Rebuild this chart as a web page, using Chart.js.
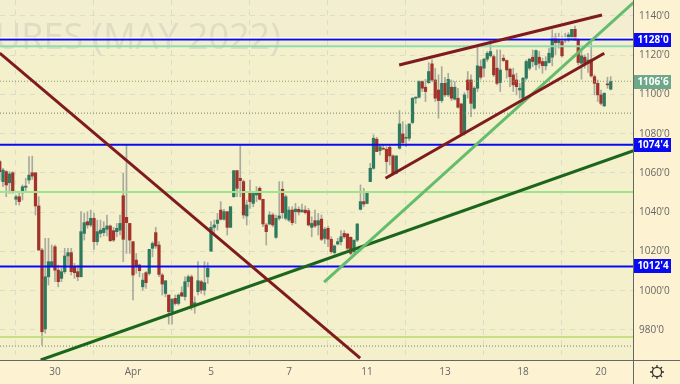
<!DOCTYPE html>
<html lang="en">
<head>
    <meta charset="UTF-8">
    <title>Futures (May 2022)</title>
    <script src="https://cdn.jsdelivr.net/npm/chart.js"></script>
    <style>
        html, body { margin: 0; padding: 0; background: #fdf2d2; overflow: hidden; }
        #wrap { position: relative; width: 680px; height: 384px; }
        canvas { display: block; }
        #gear { position: absolute; left: 649px; top: 364px; }
    </style>
</head>
<body>
<div id="wrap">
    <canvas id="priceChart" width="680" height="384"></canvas>
    <svg id="gear" width="16" height="16" viewBox="0 0 16 16" fill="none" stroke="#333" stroke-width="1.3">
        <circle cx="8" cy="8" r="4.6"/>
        <path d="M8 1v2.4M8 12.6V15M1 8h2.4M12.6 8H15M3 3l1.7 1.7M11.3 11.3L13 13M13 3l-1.7 1.7M4.7 11.3L3 13"/>
    </svg>
</div>

<script>
    const opens = [1065.8,1055.6,1060.7,1055.0,1060.1,1046.6,1047.9,1049.9,1052.7,1056.4,1060.1,1060.1,1043.2,1020.7,980.5,1007.1,1012.2,1022.4,1010.5,1006.3,
        1009.7,1017.7,1019.4,1012.2,1009.7,1007.1,1029.2,1035.2,1033.5,1036.9,1025.0,1029.2,1029.6,1031.3,1033.0,1030.6,1030.1,1030.9,1048.4,1037.4,
        1034.3,1025.0,1015.6,1013.1,1002.0,1009.2,1008.8,1021.6,1029.6,1023.3,1008.0,998.6,997.8,989.3,996.1,993.5,999.0,997.0,1004.6,1007.1,
        992.7,999.5,1004.6,1000.3,1007.1,1020.2,1032.3,1034.3,1041.1,1036.4,1040.3,1032.3,1047.9,1061.2,1057.3,1055.6,1038.1,1049.6,1044.5,1048.8,
        1052.2,1046.6,1033.5,1034.0,1038.6,1027.2,1036.9,1051.7,1036.9,1036.0,1041.1,1040.3,1041.5,1040.3,1041.1,1040.8,1032.3,1035.7,1033.5,1036.5,
        1026.7,1031.8,1026.2,1019.4,1023.8,1025.0,1029.2,1028.9,1027.2,1019.9,1025.8,1041.5,1045.4,1044.5,1055.6,1062.4,1077.2,1071.4,1072.6,1072.1,
        1073.1,1068.7,1059.8,1072.6,1079.9,1077.7,1077.7,1085.7,1098.1,1098.6,1106.6,1103.7,1106.0,1115.6,1107.4,1102.3,1096.9,1105.7,1099.8,1103.7,
        1097.6,1098.1,1095.2,1080.2,1107.4,1107.4,1093.0,1103.2,1114.2,1113.4,1118.0,1119.7,1119.3,1113.4,1106.1,1118.5,1117.3,1112.9,1110.0,1107.4,
        1102.3,1098.1,1108.3,1113.4,1119.0,1115.1,1119.0,1116.8,1114.6,1116.3,1119.0,1129.2,1126.4,1127.0,1127.8,1127.8,1128.7,1133.2,1127.8,1115.9,
        1119.0,1115.9,1117.6,1109.1,1105.7,1099.8,1094.2,1105.4,1102.7];
    const highs = [1066.6,1062.4,1061.2,1060.7,1060.7,1048.8,1049.6,1053.9,1057.3,1068.3,1068.6,1060.1,1047.9,1021.6,1026.7,1026.7,1023.3,1023.3,1013.1,1011.4,
        1021.6,1021.6,1021.6,1013.9,1013.1,1040.3,1039.4,1040.3,1041.1,1039.4,1036.0,1036.0,1035.2,1038.6,1033.5,1032.3,1034.3,1038.6,1059.8,1074.3,
        1034.3,1025.0,1019.0,1013.6,1008.8,1009.7,1021.1,1025.0,1032.3,1025.0,1008.8,1005.1,997.8,996.1,997.8,998.3,1002.0,1007.1,1008.0,1008.0,
        996.9,1014.8,1005.4,1014.8,1014.3,1035.2,1036.0,1039.4,1045.4,1041.5,1040.3,1042.8,1061.2,1061.2,1073.7,1056.4,1046.2,1056.4,1049.6,1053.0,
        1053.0,1046.6,1034.3,1040.3,1039.4,1038.6,1055.6,1055.6,1048.8,1042.8,1042.8,1044.5,1042.8,1044.2,1043.2,1042.0,1037.7,1041.1,1039.4,1038.6,
        1032.3,1033.0,1027.5,1023.3,1026.7,1030.6,1030.6,1029.2,1027.5,1025.8,1034.3,1053.9,1052.2,1050.0,1064.9,1079.4,1078.2,1074.3,1074.3,1073.4,
        1074.3,1069.2,1068.7,1091.8,1086.2,1084.5,1085.0,1098.4,1098.9,1106.9,1106.9,1107.7,1116.2,1117.6,1113.4,1110.0,1114.2,1108.8,1110.8,1107.4,
        1106.6,1103.2,1095.5,1101.0,1111.7,1110.0,1104.0,1124.4,1117.6,1118.5,1121.9,1127.8,1120.2,1122.7,1122.7,1120.2,1117.6,1113.4,1113.4,1110.8,
        1105.7,1108.8,1117.6,1118.5,1122.7,1122.7,1121.9,1118.5,1119.3,1123.6,1132.9,1131.2,1131.2,1129.8,1131.2,1131.5,1133.2,1134.9,1128.7,1123.6,
        1120.2,1121.0,1126.1,1110.0,1107.4,1102.3,1101.0,1108.8,1109.1];
    const lows = [1056.4,1053.0,1047.9,1049.6,1049.6,1043.7,1043.7,1046.2,1050.5,1054.7,1056.7,1038.6,1020.7,972.3,978.3,1002.9,1012.2,1004.6,1002.0,1004.6,
        1008.8,1013.1,1008.0,1006.3,1005.1,1007.1,1025.8,1031.8,1032.6,1021.1,1023.3,1027.2,1027.9,1027.9,1025.0,1025.0,1027.5,1028.4,1014.8,1019.0,
        1019.0,995.3,1008.8,1007.1,1000.3,1001.2,1008.0,1017.3,1021.6,1007.1,997.8,996.9,983.0,983.0,992.7,992.7,997.0,995.2,1002.0,990.2,
        988.5,997.8,998.6,997.8,1003.7,1019.9,1029.2,1030.9,1036.0,1036.0,1028.4,1032.3,1047.6,1047.9,1047.9,1036.9,1033.5,1042.0,1042.8,1045.4,
        1046.2,1032.6,1023.3,1033.5,1032.6,1026.7,1036.0,1036.9,1036.0,1035.2,1033.5,1034.3,1038.6,1039.8,1039.1,1033.0,1027.5,1032.3,1028.4,1025.5,
        1024.1,1022.4,1019.0,1018.7,1023.3,1023.3,1026.7,1020.7,1018.2,1019.0,1025.0,1041.1,1042.8,1044.2,1055.6,1061.9,1070.9,1069.2,1072.1,1059.8,
        1064.1,1059.0,1059.5,1072.1,1074.8,1073.4,1076.5,1085.0,1095.5,1098.1,1101.5,1096.4,1105.7,1106.6,1096.4,1087.9,1095.9,1098.9,1098.9,1096.9,
        1097.2,1093.0,1079.9,1079.3,1098.1,1088.7,1092.5,1101.5,1107.8,1109.1,1116.8,1119.0,1109.1,1104.9,1101.5,1116.8,1108.3,1104.0,1101.5,1099.8,
        1098.1,1097.2,1107.4,1112.5,1114.2,1112.5,1113.4,1110.8,1112.5,1115.9,1114.6,1120.2,1123.6,1119.0,1126.4,1127.0,1127.8,1127.5,1115.1,1107.8,
        1113.4,1111.2,1108.8,1099.8,1096.4,1094.7,1093.8,1103.2,1102.3];
    const closes = [1060.7,1061.5,1053.9,1059.5,1050.0,1047.9,1045.4,1053.0,1053.3,1058.9,1058.4,1043.2,1020.7,979.1,1007.1,1014.8,1014.8,1010.5,1004.6,1009.7,
        1017.7,1019.4,1009.7,1009.2,1007.1,1030.1,1034.7,1033.5,1036.9,1025.0,1030.1,1030.9,1031.8,1033.0,1025.5,1025.8,1031.8,1034.3,1026.2,1034.7,
        1025.8,1008.0,1012.6,1010.2,1005.4,1004.1,1021.1,1024.1,1022.8,1008.3,1003.4,1005.1,989.3,995.6,993.5,997.8,997.3,1004.6,1007.1,992.2,
        993.9,1005.1,1000.3,1004.1,1011.4,1032.3,1033.5,1036.0,1036.4,1040.3,1032.3,1042.8,1061.2,1052.2,1056.1,1038.6,1043.7,1045.4,1049.6,1050.5,
        1046.6,1034.0,1030.1,1038.6,1033.5,1036.9,1038.1,1039.8,1047.9,1041.1,1034.7,1041.6,1040.1,1041.1,1039.8,1033.5,1034.3,1033.0,1035.7,1026.2,
        1031.3,1026.3,1019.9,1022.8,1025.0,1027.5,1027.5,1021.6,1019.0,1025.8,1034.0,1045.4,1044.2,1049.6,1062.4,1077.7,1070.9,1073.4,1072.1,1065.8,
        1068.7,1059.8,1068.7,1085.0,1075.5,1078.2,1085.0,1098.1,1098.6,1106.6,1103.2,1101.5,1111.7,1107.4,1098.1,1096.9,1105.7,1099.8,1107.7,1098.1,
        1103.7,1093.5,1080.2,1099.8,1102.3,1095.5,1103.2,1114.6,1108.8,1118.0,1121.0,1121.9,1110.0,1105.7,1112.5,1117.3,1112.5,1109.1,1104.9,1104.0,
        1103.2,1108.3,1116.8,1118.0,1116.8,1122.4,1115.9,1114.7,1116.8,1121.0,1129.2,1126.4,1127.5,1119.7,1128.1,1130.4,1133.2,1127.8,1116.3,1119.7,
        1115.9,1117.6,1109.5,1105.7,1099.8,1095.5,1100.6,1104.9,1106.6];

    // tick labels
    const xTickPos = [17, 41, 65, 89, 113, 137, 161, 185];
    const xTickLabels = ['30', 'Apr', '5', '7', '11', '13', '18', '20'];
    const yTickVals = [980, 1000, 1020, 1040, 1060, 1080, 1100, 1120, 1140];

    // horizontal levels: value, colour, width, dash
    const levels = [
        [1128.9, '#ffffff', 1, []],
        [1124.6, '#8fdcb0', 2, []],
        [1050.3, '#9be58a', 2, []],
        [976.4, '#bcd86c', 1.5, []],
        [1106.75, '#8a9a70', 1, [1, 2]],
        [1090.5, '#77806a', 1, [1, 2]],
        [971.8, '#77806a', 1, [1, 2]],
        [1128, '#0a0af0', 2, []],
        [1074.4, '#0a0af0', 2, []],
        [1012.4, '#0a0af0', 2, []]
    ];

    // trend lines: x0, y0, x1, y1, colour
    const trends = [
        [0, 1121.1, 110.9, 965.7, '#7f1a1f'],
        [122.9, 1115, 185.3, 1140.5, '#7f1a1f'],
        [118.7, 1057.3, 186, 1121, '#7f1a1f'],
        [99.8, 1004.4, 195, 1146.8, '#63bd6c'],
        [12.6, 964.7, 195, 1071.4, '#1c651c']
    ];

    // price tags on the right axis
    const tags = [
        ["1128'0", 1128, '#0a0af0', '#ffffff'],
        ["1106'6", 1106.6, '#6ea88a', '#ffffff'],
        ["1074'4", 1074.4, '#0a0af0', '#ffffff'],
        ["1012'4", 1012.4, '#0a0af0', '#ffffff']
    ];

    const xMin = 0.08, xMax = 194.85, yMin = 964.7, yMax = 1148.15;

    const backdrop = {
        id: 'backdrop',
        beforeDraw(chart) {
            const { ctx, chartArea: a, scales } = chart;
            ctx.save();
            ctx.fillStyle = '#f3f0cb';
            ctx.fillRect(a.left, a.top, a.width, a.height);
            ctx.fillStyle = '#f3eecf';
            ctx.fillRect(a.left, a.top, a.width, scales.y.getPixelForValue(1124.6) - a.top);
            ctx.restore();
        },
        beforeDatasetsDraw(chart) {
            const ctx = chart.ctx;
            ctx.save();
            ctx.font = '36px "Open Sans"';
            ctx.fillStyle = '#dfdcc4';
            ctx.textBaseline = 'alphabetic';
            ctx.fillText('URES (MAY 2022)', -5, 49);
            ctx.restore();
        },
        afterDraw(chart) {
            const { ctx, chartArea: a, scales } = chart;
            ctx.save();
            ctx.strokeStyle = '#666';
            ctx.lineWidth = 1;
            ctx.beginPath();
            ctx.moveTo(a.right + 0.5, 0);
            ctx.lineTo(a.right + 0.5, 384);
            ctx.moveTo(0, a.bottom + 0.5);
            ctx.lineTo(680, a.bottom + 0.5);
            ctx.stroke();
            ctx.font = 'bold 10px "Open Sans"';
            ctx.textAlign = 'center';
            ctx.textBaseline = 'middle';
            tags.forEach(([text, v, bg, fg]) => {
                const y = Math.round(scales.y.getPixelForValue(v));
                ctx.fillStyle = bg;
                ctx.fillRect(a.right + 1, y - 7, 37, 14);
                ctx.fillStyle = fg;
                ctx.fillText(text, a.right + 20, y);
            });
            ctx.restore();
        }
    };

    const idx = opens.map((_, i) => i);
    const candleColor = i => closes[i] >= opens[i] ? '#2e7a5e' : '#a3322a';

    const datasets = [];
    datasets.push({
        type: 'bar',
        order: 30,
        data: idx.map(i => ({ x: i, y: [lows[i], highs[i]] })),
        backgroundColor: '#a9a99d',
        barThickness: 1,
        grouped: false
    });
    datasets.push({
        type: 'bar',
        order: 20,
        data: idx.map(i => ({ x: i, y: [opens[i], closes[i]] })),
        backgroundColor: idx.map(candleColor),
        barThickness: 2.6,
        grouped: false
    });
    levels.forEach(([v, color, width, dash]) => datasets.push({
        type: 'line',
        order: 10,
        data: [{ x: xMin, y: v }, { x: xMax, y: v }],
        borderColor: color,
        borderWidth: width,
        borderDash: dash,
        pointRadius: 0
    }));
    trends.forEach(([x0, y0, x1, y1, color]) => datasets.push({
        type: 'line',
        order: 5,
        data: [{ x: x0, y: y0 }, { x: x1, y: y1 }],
        borderColor: color,
        borderWidth: 3,
        pointRadius: 0
    }));

    new Chart(document.getElementById('priceChart'), {
        data: { datasets },
        plugins: [backdrop],
        options: {
            responsive: false,
            animation: false,
            layout: { padding: 0 },
            plugins: { legend: { display: false }, tooltip: { enabled: false } },
            scales: {
                x: {
                    type: 'linear',
                    offset: false,
                    min: xMin,
                    max: xMax,
                    afterBuildTicks: s => { s.ticks = xTickPos.map(v => ({ value: v })); },
                    afterFit: s => { s.height = 24; s.paddingLeft = 0; s.paddingRight = 0; },
                    border: { display: false, dash: [5, 5] },
                    grid: { color: '#dcdccb', tickLength: 0 },
                    ticks: {
                        autoSkip: false,
                        maxRotation: 0,
                        color: '#666',
                        font: { family: 'Open Sans', size: 10 },
                        padding: 6,
                        callback: v => xTickLabels[xTickPos.indexOf(v)]
                    }
                },
                y: {
                    position: 'right',
                    min: yMin,
                    max: yMax,
                    afterBuildTicks: s => { s.ticks = yTickVals.map(v => ({ value: v })); },
                    afterFit: s => { s.width = 47; s.paddingTop = 0; s.paddingBottom = 0; },
                    border: { display: false, dash: [5, 5] },
                    grid: { color: '#dcdccb', tickLength: 0 },
                    ticks: {
                        color: '#666',
                        font: { family: 'Open Sans', size: 10 },
                        padding: 6,
                        callback: v => `${v}'0`
                    }
                }
            }
        }
    });
</script>
</body>
</html>
